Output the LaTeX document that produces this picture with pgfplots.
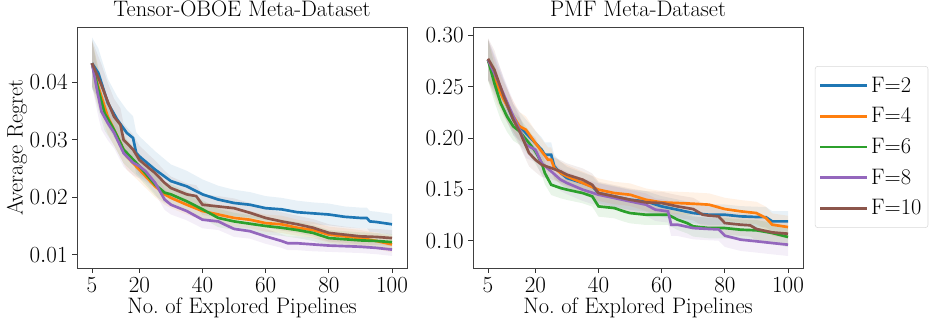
\documentclass[border=0pt]{standalone}
\usepackage{pgfplots}
\pgfplotsset{compat=1.18}
\usepackage{pgfplotstable}
\usepgfplotslibrary{fillbetween}
\definecolor{cB}{HTML}{1F77B4}
\definecolor{cO}{HTML}{FF7F0E}
\definecolor{cG}{HTML}{2CA02C}
\definecolor{cP}{HTML}{9467BD}
\definecolor{cR}{HTML}{8C564B}
\newcommand\fs{\fontsize{16.8}{20}\selectfont}

\pgfplotstableread{
x y e
5 0.0433 0.0045
7 0.0416 0.0043
10 0.0364 0.0042
13 0.0335 0.0040
16 0.0312 0.0040
18 0.0303 0.0038
19 0.0277 0.0036
20 0.0271 0.0035
25 0.0248 0.0032
30 0.0228 0.0029
35 0.0219 0.0027
40 0.0205 0.0026
45 0.0196 0.0024
50 0.0190 0.0023
55 0.0187 0.0022
60 0.0181 0.0021
65 0.0179 0.0020
70 0.0174 0.0020
75 0.0172 0.0019
80 0.0170 0.0019
85 0.0166 0.0018
90 0.0164 0.0018
92 0.0164 0.0018
93 0.0158 0.0018
95 0.0157 0.0018
100 0.0153 0.0018
}\LB
\pgfplotstableread{
x y e
5 0.0433 0.0040
7 0.0392 0.0035
10 0.0340 0.0030
13 0.0306 0.0026
16 0.0271 0.0023
20 0.0248 0.0021
25 0.0219 0.0019
28 0.0205 0.0018
30 0.0199 0.0018
35 0.0187 0.0017
40 0.0176 0.0016
45 0.0170 0.0016
50 0.0164 0.0015
55 0.0161 0.0015
60 0.0155 0.0015
65 0.0153 0.0015
70 0.0147 0.0014
75 0.0143 0.0014
80 0.0135 0.0014
85 0.0132 0.0014
90 0.0129 0.0014
95 0.0124 0.0014
100 0.0118 0.0014
}\LO
\pgfplotstableread{
x y e
5 0.0433 0.0040
7 0.0387 0.0035
9 0.0346 0.0030
12 0.0317 0.0027
15 0.0283 0.0024
20 0.0254 0.0021
25 0.0222 0.0019
28 0.0208 0.0018
30 0.0205 0.0018
35 0.0193 0.0017
40 0.0179 0.0016
45 0.0164 0.0016
50 0.0158 0.0015
55 0.0154 0.0015
60 0.0150 0.0015
65 0.0147 0.0014
70 0.0143 0.0014
75 0.0138 0.0014
80 0.0129 0.0014
85 0.0127 0.0014
90 0.0125 0.0014
95 0.0124 0.0014
100 0.0122 0.0014
}\LG
\pgfplotstableread{
x y e
5 0.0433 0.0040
7 0.0375 0.0035
8 0.0349 0.0032
10 0.0329 0.0030
12 0.0312 0.0027
15 0.0277 0.0024
18 0.0260 0.0022
20 0.0254 0.0021
22 0.0245 0.0020
25 0.0225 0.0019
28 0.0196 0.0018
30 0.0187 0.0017
35 0.0176 0.0016
40 0.0161 0.0015
45 0.0158 0.0015
48 0.0150 0.0014
50 0.0145 0.0014
55 0.0141 0.0013
60 0.0132 0.0013
65 0.0124 0.0012
67 0.0120 0.0012
70 0.0120 0.0012
75 0.0118 0.0012
80 0.0116 0.0011
85 0.0115 0.0011
90 0.0114 0.0011
95 0.0112 0.0011
100 0.0109 0.0011
}\LP
\pgfplotstableread{
x y e
5 0.0433 0.0040
8 0.0395 0.0036
10 0.0366 0.0033
12 0.0340 0.0031
14 0.0326 0.0029
15 0.0300 0.0028
18 0.0283 0.0026
20 0.0265 0.0025
23 0.0251 0.0023
25 0.0242 0.0022
28 0.0225 0.0021
30 0.0216 0.0020
35 0.0205 0.0019
38 0.0202 0.0019
40 0.0187 0.0018
45 0.0184 0.0018
50 0.0181 0.0017
55 0.0173 0.0017
60 0.0164 0.0016
65 0.0158 0.0016
70 0.0153 0.0015
75 0.0147 0.0015
80 0.0138 0.0015
85 0.0135 0.0014
90 0.0132 0.0014
95 0.0131 0.0014
100 0.0129 0.0014
}\LR

\pgfplotstableread{
x y e
5 0.2763 0.020
8 0.2536 0.018
10 0.2390 0.017
13 0.2179 0.015
15 0.2114 0.014
18 0.2016 0.013
20 0.1951 0.012
22 0.1886 0.012
23 0.1838 0.012
25 0.1838 0.012
26 0.1724 0.011
28 0.1659 0.011
30 0.1610 0.011
35 0.1562 0.010
38 0.1529 0.010
40 0.1464 0.010
45 0.1432 0.010
50 0.1399 0.010
55 0.1383 0.010
60 0.1334 0.010
65 0.1302 0.010
70 0.1269 0.010
75 0.1253 0.010
80 0.1253 0.010
85 0.1237 0.010
90 0.1231 0.010
93 0.1229 0.010
95 0.1188 0.010
100 0.1188 0.010
}\RB
\pgfplotstableread{
x y e
5 0.2763 0.020
8 0.2503 0.018
10 0.2373 0.017
13 0.2211 0.015
15 0.2114 0.014
17 0.2081 0.013
20 0.1951 0.012
22 0.1870 0.012
24 0.1789 0.012
25 0.1789 0.012
26 0.1708 0.011
28 0.1659 0.011
30 0.1627 0.011
35 0.1562 0.011
40 0.1497 0.011
45 0.1464 0.011
50 0.1448 0.011
55 0.1399 0.011
60 0.1373 0.011
65 0.1367 0.011
70 0.1360 0.011
75 0.1351 0.011
80 0.1308 0.011
85 0.1286 0.011
90 0.1269 0.011
93 0.1221 0.011
95 0.1156 0.011
100 0.1133 0.011
}\RO
\pgfplotstableread{
x y e
5 0.2763 0.020
7 0.2536 0.018
9 0.2341 0.016
11 0.2211 0.015
13 0.2114 0.014
15 0.2065 0.013
18 0.1951 0.012
20 0.1870 0.012
22 0.1756 0.011
23 0.1659 0.011
25 0.1545 0.010
28 0.1513 0.010
30 0.1497 0.010
35 0.1464 0.010
38 0.1432 0.010
40 0.1334 0.010
45 0.1318 0.010
48 0.1286 0.010
50 0.1269 0.010
55 0.1253 0.010
62 0.1253 0.010
65 0.1205 0.010
68 0.1172 0.010
70 0.1140 0.010
75 0.1123 0.010
80 0.1123 0.010
85 0.1107 0.010
90 0.1101 0.010
95 0.1075 0.010
100 0.1036 0.010
}\RG
\pgfplotstableread{
x y e
5 0.2763 0.020
8 0.2568 0.018
10 0.2422 0.017
13 0.2211 0.015
15 0.2081 0.014
17 0.1935 0.013
20 0.1886 0.012
22 0.1756 0.012
25 0.1675 0.011
28 0.1594 0.011
30 0.1562 0.011
35 0.1497 0.011
40 0.1448 0.011
45 0.1416 0.011
50 0.1383 0.011
55 0.1351 0.011
58 0.1302 0.011
62 0.1286 0.011
63 0.1156 0.011
65 0.1156 0.011
70 0.1123 0.011
75 0.1114 0.011
78 0.1110 0.011
80 0.1049 0.011
85 0.1010 0.011
90 0.0994 0.011
95 0.0977 0.011
100 0.0961 0.011
}\RP
\pgfplotstableread{
x y e
5 0.2773 0.020
7 0.2666 0.019
10 0.2406 0.017
13 0.2179 0.015
15 0.2065 0.014
18 0.1854 0.013
20 0.1789 0.012
22 0.1740 0.012
25 0.1708 0.011
28 0.1675 0.011
30 0.1643 0.011
35 0.1594 0.011
38 0.1545 0.011
40 0.1464 0.011
45 0.1432 0.011
50 0.1399 0.011
55 0.1373 0.011
60 0.1367 0.011
65 0.1334 0.011
70 0.1308 0.011
73 0.1253 0.011
75 0.1244 0.011
78 0.1237 0.011
80 0.1172 0.011
85 0.1156 0.011
88 0.1150 0.011
90 0.1114 0.011
95 0.1081 0.011
100 0.1068 0.011
}\RR

\newcommand\band[3]{%
  \addplot[draw=none, forget plot, name path=#3u] table[x=x, y expr=\thisrow{y}+\thisrow{e}] {#1};
  \addplot[draw=none, forget plot, name path=#3l] table[x=x, y expr=\thisrow{y}-\thisrow{e}] {#1};
  \addplot[fill=#2, fill opacity=0.1, draw=none, forget plot] fill between[of=#3u and #3l];
}

\pgfplotsset{
  myax/.style={
    scale only axis, width=247.5pt, height=180.75pt,
    xmin=0.25, xmax=104.75,
    xtick={5,20,40,60,80,100},
    tick align=outside, xtick pos=left, ytick pos=left,
    major tick length=3.5pt,
    tick style={black!80, line width=0.6pt},
    axis line style={black!75, line width=0.7pt},
    title style={font=\fs, yshift=-2pt},
    label style={font=\fs},
    tick label style={font=\fs},
    xlabel={No.\ of Explored Pipelines},
    xlabel style={yshift=3pt},
    scaled y ticks=false,
    yticklabel style={/pgf/number format/.cd, fixed, fixed zerofill, precision=2},
    every axis plot/.append style={line width=2pt},
  }
}

\begin{document}
\begin{tikzpicture}
\begin{axis}[myax, at={(0,0)}, anchor=south west,
  title={Tensor-OBOE Meta-Dataset},
  ymin=0.0077, ymax=0.0496,
  ytick={0.01,0.02,0.03,0.04},
  ylabel={Average Regret}, ylabel style={yshift=-5pt}]
\band{\LB}{cB}{lb}
\band{\LO}{cO}{lo}
\band{\LG}{cG}{lg}
\band{\LP}{cP}{lp}
\band{\LR}{cR}{lr}
\addplot[cB] table[x=x,y=y] {\LB};
\addplot[cO] table[x=x,y=y] {\LO};
\addplot[cG] table[x=x,y=y] {\LG};
\addplot[cP] table[x=x,y=y] {\LP};
\addplot[cR] table[x=x,y=y] {\LR};
\end{axis}
\begin{axis}[myax, at={(297pt,0)}, anchor=south west,
  title={PMF Meta-Dataset},
  ymin=0.0734, ymax=0.3082,
  ytick={0.10,0.15,0.20,0.25,0.30},
  legend style={at={(1.036,0.838)}, anchor=north west, draw=black!15,
    rounded corners=2pt, font=\fs, inner sep=3pt,
    nodes={minimum height=23pt}},
  legend cell align=left,
  legend image code/.code={\draw[#1, line width=2pt] (0pt,0pt) -- (35pt,0pt);}]
\band{\RB}{cB}{rb}
\band{\RO}{cO}{ro}
\band{\RG}{cG}{rg}
\band{\RP}{cP}{rp}
\band{\RR}{cR}{rr}
\addplot[cB] table[x=x,y=y] {\RB};
\addplot[cO] table[x=x,y=y] {\RO};
\addplot[cG] table[x=x,y=y] {\RG};
\addplot[cP] table[x=x,y=y] {\RP};
\addplot[cR] table[x=x,y=y] {\RR};
\legend{F=2,F=4,F=6,F=8,F=10}
\end{axis}
\pgfresetboundingbox
\path[use as bounding box] (-57.75pt,-41.25pt) rectangle (645pt,201pt);
\end{tikzpicture}
\end{document}
